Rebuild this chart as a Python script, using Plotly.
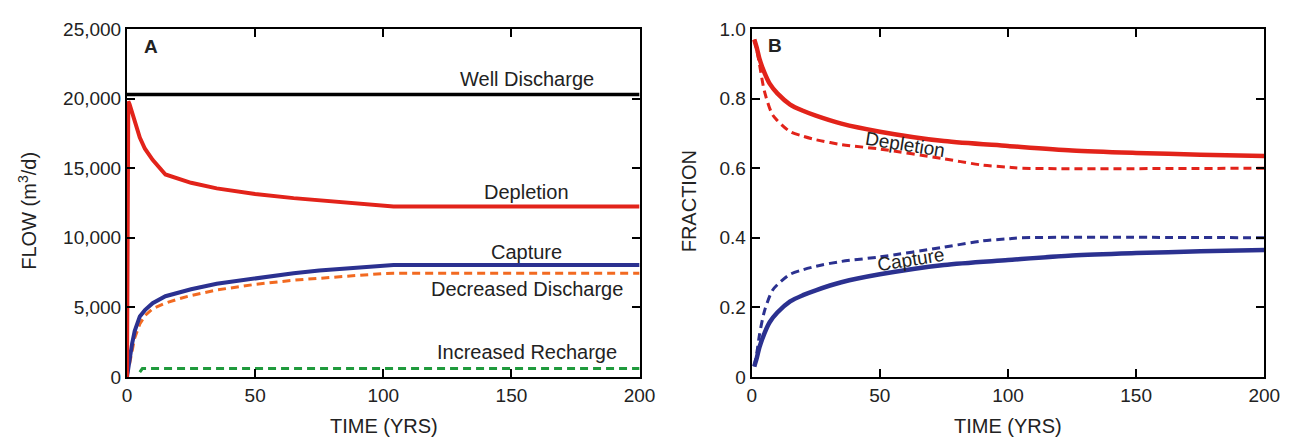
import plotly.graph_objects as go

# ---------------- Panel A data (FLOW, m3/d) ----------------
t_well = [0, 200]
well_discharge = [20300, 20300]

t_dep_a = [0, 0.5, 1, 2, 3, 5, 7, 10, 15, 20, 25, 35, 50, 65, 75, 90, 100, 104, 200]
depletion_a = [0, 19800, 19600, 19000, 18200, 17200, 16400, 15600, 14550, 14250, 13950, 13550, 13150, 12850, 12700, 12450, 12280, 12240, 12240]

t_cap_a = [0, 1, 2, 3, 5, 7, 10, 15, 20, 25, 35, 50, 65, 75, 90, 100, 104, 200]
capture_a = [0, 1300, 2400, 3300, 4350, 4800, 5300, 5800, 6050, 6300, 6700, 7100, 7450, 7650, 7850, 8000, 8050, 8050]

t_dd_a = [0, 2, 3, 5, 7, 10, 15, 20, 25, 35, 50, 65, 75, 90, 100, 104, 200]
decreased_discharge_a = [0, 1800, 2800, 3800, 4400, 4900, 5300, 5600, 5850, 6250, 6650, 6950, 7100, 7300, 7430, 7450, 7450]

t_ir_a = [5, 6, 200]
increased_recharge_a = [350, 600, 600]

# ---------------- Panel B data (FRACTION) ----------------
t_b = [1, 2, 3, 5, 7, 10, 15, 20, 25, 35, 50, 75, 100, 125, 150, 175, 200]
depletion_b = [0.97, 0.945, 0.915, 0.874, 0.843, 0.815, 0.783, 0.765, 0.751, 0.728, 0.705, 0.678, 0.664, 0.651, 0.644, 0.639, 0.635]
capture_b = [0.03, 0.055, 0.085, 0.126, 0.157, 0.185, 0.217, 0.235, 0.249, 0.272, 0.295, 0.322, 0.336, 0.349, 0.356, 0.361, 0.365]

t_bd = [1, 2, 3, 5, 8, 10, 15, 20, 25, 35, 50, 75, 90, 100, 105, 200]
depletion_b_dashed = [0.97, 0.94, 0.90, 0.82, 0.755, 0.737, 0.705, 0.692, 0.682, 0.668, 0.655, 0.627, 0.609, 0.603, 0.600, 0.600]
capture_b_dashed = [0.03, 0.07, 0.12, 0.19, 0.248, 0.265, 0.295, 0.308, 0.318, 0.332, 0.345, 0.373, 0.391, 0.397, 0.400, 0.400]

# tick labels
x_ticks = [0, 50, 100, 150, 200]
x_ticktext = ["0", "50", "100", "150", "200"]
ya_ticks = [0, 5000, 10000, 15000, 20000, 25000]
ya_ticktext = ["0", "5,000", "10,000", "15,000", "20,000", "25,000"]
yb_ticks = [0, 0.2, 0.4, 0.6, 0.8, 1.0]
yb_ticktext = ["0", "0.2", "0.4", "0.6", "0.8", "1.0"]

RED = "#e2231a"
BLUE = "#2b3190"
ORANGE = "#f26a21"
GREEN = "#1f9a3c"
FONT = "Arial, Liberation Sans, Helvetica, sans-serif"

W, H = 1298, 447

def px(x):
    return x / W

def py(y):
    return 1 - y / H

fig = go.Figure()

def add(x, y, color, width, dash=None, xa="x", ya="y", shape="linear"):
    fig.add_trace(go.Scatter(x=x, y=y, mode="lines", xaxis=xa, yaxis=ya,
                             line=dict(color=color, width=width, dash=dash,
                                       shape=shape, smoothing=0.8),
                             showlegend=False, hoverinfo="skip"))

# Panel A
add(t_ir_a, increased_recharge_a, GREEN, 3, "8px,5px")
add(t_dd_a, decreased_discharge_a, ORANGE, 3, "8px,5px")
add(t_cap_a, capture_a, BLUE, 4)
add(t_dep_a, depletion_a, RED, 4)
add(t_well, well_discharge, "black", 3.5)

# Panel B
add(t_bd, depletion_b_dashed, RED, 3, "8px,5px", "x2", "y2", "spline")
add(t_bd, capture_b_dashed, BLUE, 3, "8px,5px", "x2", "y2", "spline")
add(t_b, depletion_b, RED, 4.5, None, "x2", "y2", "spline")
add(t_b, capture_b, BLUE, 4.5, None, "x2", "y2", "spline")

axis_common = dict(showline=True, linecolor="black", linewidth=2, mirror="ticks",
                   ticks="inside", ticklen=8, tickwidth=1.5, tickcolor="black",
                   showgrid=False, zeroline=False,
                   tickfont=dict(family=FONT, size=19, color="#222"))

fig.update_layout(
    width=W, height=H,
    margin=dict(l=0, r=0, t=0, b=0),
    paper_bgcolor="white", plot_bgcolor="white",
    font=dict(family=FONT, color="#222"),
    xaxis=dict(domain=[px(124), px(645)], range=[0, 200], anchor="y",
               tickvals=x_ticks, ticktext=x_ticktext, **axis_common),
    yaxis=dict(domain=[py(385), py(20)], range=[0, 25000], anchor="x",
               tickvals=ya_ticks, ticktext=ya_ticktext, **axis_common),
    xaxis2=dict(domain=[px(759), px(1280)], range=[0, 200], anchor="y2",
                tickvals=x_ticks, ticktext=x_ticktext, **axis_common),
    yaxis2=dict(domain=[py(385), py(20)], range=[0, 1.0], anchor="x2",
                tickvals=yb_ticks, ticktext=yb_ticktext, **axis_common),
)

ann = []
def label(text, x, y, xref, yref, size=20, angle=0, bold=False):
    ann.append(dict(text=("<b>%s</b>" % text) if bold else text, x=x, y=y,
                    xref=xref, yref=yref, showarrow=False, textangle=angle,
                    font=dict(family=FONT, size=size, color="#222"),
                    xanchor="center", yanchor="middle"))

label("A", 9.4, 23750, "x", "y", size=19, bold=True)
label("Well Discharge", 156, 21400, "x", "y")
label("Depletion", 156, 13300, "x", "y")
label("Capture", 156, 8950, "x", "y")
label("Decreased Discharge", 156, 6320, "x", "y")
label("Increased Recharge", 156, 1780, "x", "y")

label("B", 9.2, 0.953, "x2", "y2", size=19, bold=True)
label("Depletion", 60, 0.668, "x2", "y2", size=19, angle=9)
label("Capture", 62, 0.338, "x2", "y2", size=19, angle=-9)

label("TIME (YRS)", px(385), py(436), "paper", "paper")
label("TIME (YRS)", px(1020), py(437), "paper", "paper")
label("FLOW (m<sup>3</sup>/d)", px(22), py(211), "paper", "paper", angle=-90)
label("FRACTION", px(695), py(201), "paper", "paper", angle=-90)

fig.update_layout(annotations=ann)
fig.write_html("out.html")
